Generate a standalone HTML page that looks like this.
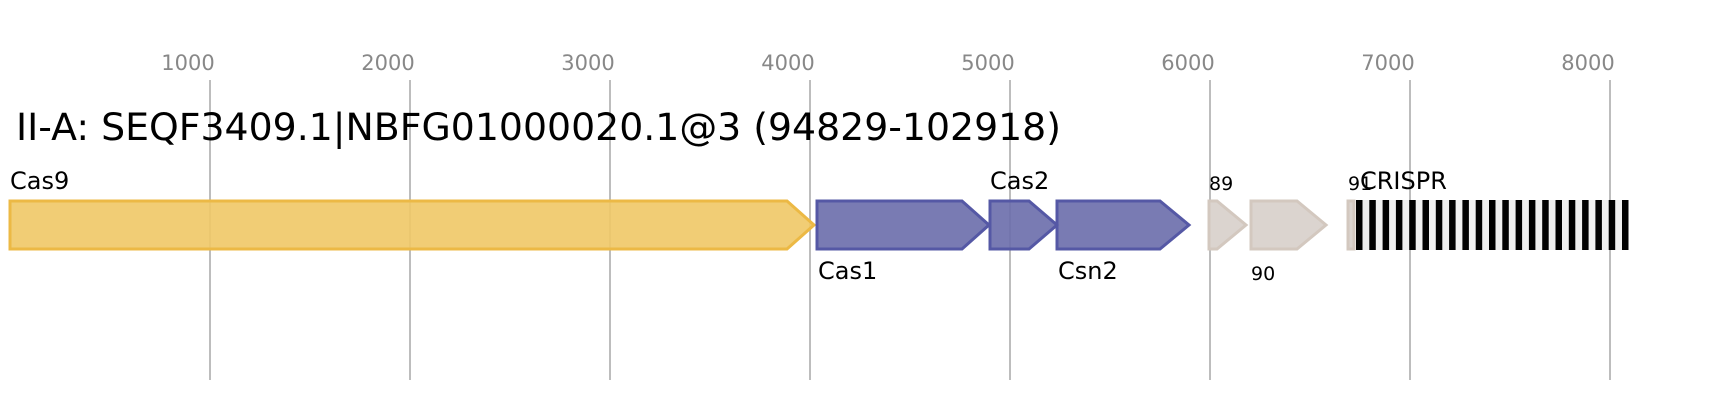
<!DOCTYPE html>
<html><head><meta charset="utf-8"><style>html,body{margin:0;padding:0;background:#fff}svg{display:block}</style></head>
<body>
<svg width="1718" height="400" viewBox="0 0 1718 400" xmlns="http://www.w3.org/2000/svg" font-family="'DejaVu Sans','Liberation Sans',sans-serif">
<g stroke="#bdbdbd" stroke-width="2">
<line x1="210" y1="80" x2="210" y2="380"/><line x1="410" y1="80" x2="410" y2="380"/>
<line x1="610" y1="80" x2="610" y2="380"/><line x1="810" y1="80" x2="810" y2="380"/>
<line x1="1010" y1="80" x2="1010" y2="380"/><line x1="1210" y1="80" x2="1210" y2="380"/>
<line x1="1410" y1="80" x2="1410" y2="380"/><line x1="1610" y1="80" x2="1610" y2="380"/>
</g>
<g fill="#888" font-size="21" text-anchor="middle">
<text x="188" y="70">1000</text><text x="388" y="70">2000</text><text x="588" y="70">3000</text><text x="788" y="70">4000</text>
<text x="988" y="70">5000</text><text x="1188" y="70">6000</text><text x="1388" y="70">7000</text><text x="1588" y="70">8000</text>
</g>
<text x="16" y="140" font-size="37" fill="#000" textLength="1045" lengthAdjust="spacingAndGlyphs">II-A: SEQF3409.1|NBFG01000020.1@3 (94829-102918)</text>
<polygon points="10,201 787,201 814,225 787,249 10,249" fill="#f0c866" fill-opacity="0.9" stroke="#ecb945" stroke-width="3"/>
<g fill="#6a6dab" fill-opacity="0.9" stroke="#5558a5" stroke-width="3">
<polygon points="817,201 962,201 989,225 962,249 817,249"/>
<polygon points="990,201 1029,201 1057,225 1029,249 990,249"/>
<polygon points="1057,201 1160,201 1189,225 1160,249 1057,249"/>
</g>
<g fill="#dbd4cf" stroke="#d3c8bf" stroke-width="3">
<polygon points="1209,201 1217,201 1246,225 1217,249 1209,249"/>
<polygon points="1251,201 1297,201 1326,225 1297,249 1251,249"/>
<rect x="1348" y="201" width="6" height="48"/>
</g>
<rect x="1356" y="200" width="272" height="50" fill="#efefef"/>
<g fill="#000">
<rect x="1356" y="200" width="6.5" height="50"/><rect x="1369.3" y="200" width="6.5" height="50"/><rect x="1382.6" y="200" width="6.5" height="50"/><rect x="1395.9" y="200" width="6.5" height="50"/><rect x="1409.2" y="200" width="6.5" height="50"/><rect x="1422.5" y="200" width="6.5" height="50"/><rect x="1435.8" y="200" width="6.5" height="50"/><rect x="1449.1" y="200" width="6.5" height="50"/><rect x="1462.4" y="200" width="6.5" height="50"/><rect x="1475.7" y="200" width="6.5" height="50"/><rect x="1489" y="200" width="6.5" height="50"/><rect x="1502.3" y="200" width="6.5" height="50"/><rect x="1515.6" y="200" width="6.5" height="50"/><rect x="1528.9" y="200" width="6.5" height="50"/><rect x="1542.2" y="200" width="6.5" height="50"/><rect x="1555.5" y="200" width="6.5" height="50"/><rect x="1568.8" y="200" width="6.5" height="50"/><rect x="1582.1" y="200" width="6.5" height="50"/><rect x="1595.4" y="200" width="6.5" height="50"/><rect x="1608.7" y="200" width="6.5" height="50"/><rect x="1622" y="200" width="6.5" height="50"/>
</g>
<g fill="#000" font-size="24">
<text x="10" y="189">Cas9</text>
<text x="818" y="279">Cas1</text>
<text x="990" y="189">Cas2</text>
<text x="1058" y="279">Csn2</text>
<text x="1360" y="189">CRISPR</text>
</g>
<g fill="#000" font-size="19">
<text x="1209" y="190">89</text>
<text x="1251" y="280">90</text>
<text x="1348" y="190">91</text>
</g>
</svg>
</body></html>
